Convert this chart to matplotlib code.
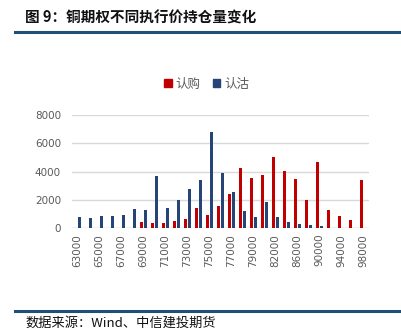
import matplotlib
matplotlib.use("Agg")
import matplotlib.pyplot as plt
import numpy as np
from matplotlib.lines import Line2D
from matplotlib.patches import Patch

plt.rcParams['font.family'] = ['Noto Sans CJK SC', 'DejaVu Sans']

strikes = ["63000", "64000", "65000", "66000", "67000", "68000", "69000", "70000",
           "71000", "72000", "73000", "74000", "75000", "76000", "77000", "78000",
           "79000", "80000", "82000", "84000", "86000", "88000", "90000", "92000",
           "94000", "96000", "98000"]
calls = [0, 0, 50, 0, 0, 30, 470, 400, 400, 540, 660, 1460, 940, 1580, 2420, 4260,
         3580, 3740, 5040, 4050, 3460, 2000, 4680, 1270, 850, 610, 3410]
puts = [800, 750, 870, 850, 920, 1360, 1320, 3690, 1410, 2020, 2780, 3390, 6780, 3900,
        2590, 1220, 820, 1840, 820, 420, 310, 240, 140, 20, 0, 0, 0]
yticks = [0, 2000, 4000, 6000, 8000]

red = "#C00000"
blue = "#264478"
gray = "#595959"

fig = plt.figure(figsize=(4.01, 3.28), dpi=100)
ax = fig.add_axes([0.1796, 0.304, 0.7407, 0.345])

x = np.arange(len(strikes))
w = 0.3
ax.bar(x - 0.2, calls, width=w, color=red, zorder=3)
ax.bar(x + 0.2, puts, width=w, color=blue, zorder=3)

ax.set_xlim(-0.5, len(strikes) - 0.5)
ax.set_ylim(0, 8000)
ax.set_yticks(yticks)
ax.set_yticklabels([str(v) for v in yticks], fontsize=7.5, color=gray, family='DejaVu Sans')
ax.set_xticks(x[::2])
ax.set_xticklabels(strikes[::2], rotation=90, fontsize=7.5, color=gray, family='DejaVu Sans')
ax.tick_params(axis='both', length=0, pad=8)
ax.tick_params(axis='x', pad=4)
ax.yaxis.grid(True, color="#D9D9D9", linewidth=1, zorder=0)
for s in ax.spines.values():
    s.set_visible(False)
ax.axhline(0, color="#D9D9D9", linewidth=1, zorder=2)

handles = [Patch(color=red, label="认购"), Patch(color=blue, label="认沽")]
fig.legend(handles=handles, loc='center', bbox_to_anchor=(0.515, 0.743), ncol=2,
           frameon=False, fontsize=9, handlelength=0.6, handleheight=0.6,
           handletextpad=0.3, columnspacing=1.0, labelcolor=gray)

fig.text(25 / 401, 1 - 18 / 328, "图 9：铜期权不同执行价持仓量变化", fontsize=10.5,
         fontweight='bold', va='center', ha='left', color='#111111')
fig.add_artist(Line2D([15 / 401, 1.0], [1 - 32 / 328, 1 - 32 / 328], color="#1F4E79",
                      linewidth=2.2))
fig.add_artist(Line2D([15 / 401, 1.0], [1 - 311 / 328, 1 - 311 / 328], color="#1F4E79",
                      linewidth=2.2))
fig.text(25 / 401, 1 - 323 / 328, "数据来源：Wind、中信建投期货", fontsize=9.5,
         style='italic', va='center', ha='left', color='#111111')

fig.savefig("out.png", dpi=100)
